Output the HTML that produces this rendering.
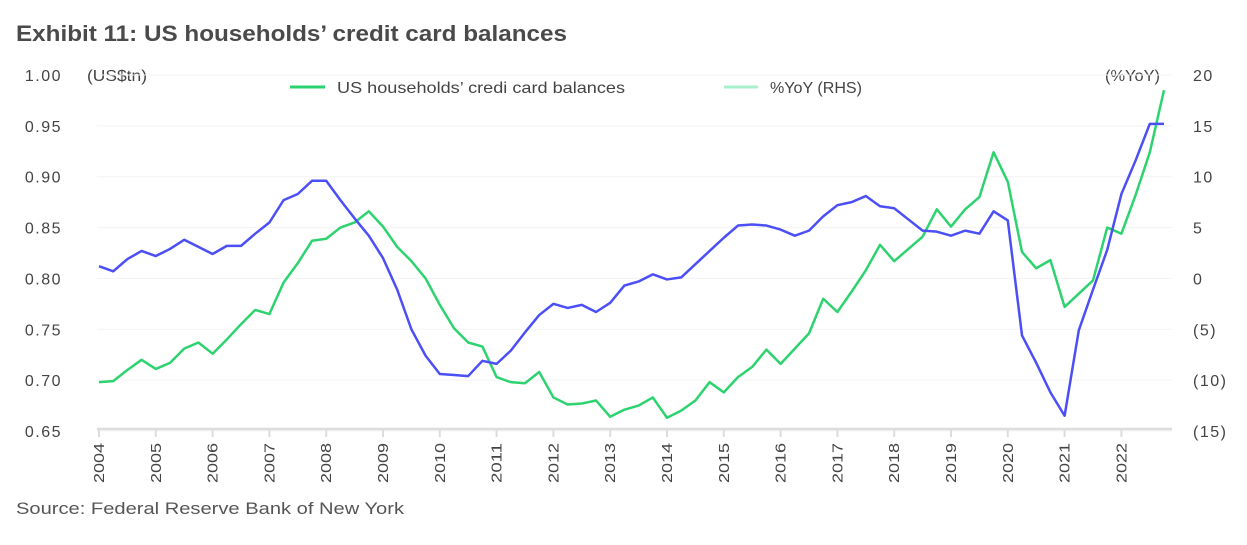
<!DOCTYPE html>
<html><head><meta charset="utf-8"><style>
body{margin:0;background:#fff;width:1247px;height:540px;overflow:hidden;font-family:"Liberation Sans",sans-serif;}
svg text{font-family:"Liberation Sans",sans-serif;fill:#444;}
</style></head><body>
<svg id="chart" width="1247" height="540" xmlns="http://www.w3.org/2000/svg">
<text x="16" y="41" font-size="22" font-weight="bold" textLength="551" lengthAdjust="spacingAndGlyphs" style="fill:#4a4a4a">Exhibit 11: US households’ credit card balances</text>
<text x="87" y="81" font-size="16" textLength="60" lengthAdjust="spacingAndGlyphs">(US$tn)</text>
<text x="1105" y="81" font-size="16" textLength="55" lengthAdjust="spacingAndGlyphs">(%YoY)</text>
<g>
<line x1="290" y1="87" x2="325" y2="87" stroke="#2dd36f" stroke-width="3"/>
<text x="337" y="93" font-size="16" textLength="288" lengthAdjust="spacingAndGlyphs">US households’ credi card balances</text>
<line x1="724" y1="87" x2="758" y2="87" stroke="#a8f0cc" stroke-width="3"/>
<text x="770" y="93" font-size="16" textLength="92" lengthAdjust="spacingAndGlyphs">%YoY (RHS)</text>
</g>
<g id="grid"></g><g id="axes"></g><g id="series"></g>
<text x="16" y="514" font-size="17" textLength="388" lengthAdjust="spacingAndGlyphs" style="fill:#555">Source: Federal Reserve Bank of New York</text>
</svg>
<script>
const years=["2004","2005","2006","2007","2008","2009","2010","2011","2012","2013","2014","2015","2016","2017","2018","2019","2020","2021","2022"];
const leftTicks=[0.65,0.70,0.75,0.80,0.85,0.90,0.95,1.00];
const rightTicks=[-15,-10,-5,0,5,10,15,20];
const balances=[0.698,0.699,0.710,0.720,0.711,0.717,0.731,0.737,0.726,0.740,0.755,0.769,0.765,0.796,0.815,0.837,0.839,0.850,0.855,0.866,0.851,0.831,0.817,0.800,0.774,0.751,0.737,0.733,0.703,0.698,0.697,0.708,0.683,0.676,0.677,0.680,0.664,0.671,0.675,0.683,0.663,0.670,0.680,0.698,0.688,0.703,0.713,0.730,0.716,0.731,0.746,0.780,0.767,0.787,0.808,0.833,0.817,0.829,0.841,0.868,0.851,0.868,0.880,0.924,0.895,0.826,0.810,0.818,0.772,0.785,0.798,0.850,0.844,0.882,0.924,0.985];
const yoy=[1.2,0.7,1.9,2.7,2.2,2.9,3.8,3.1,2.4,3.2,3.2,4.4,5.5,7.7,8.3,9.6,9.6,7.7,5.9,4.2,2.0,-1.1,-5.0,-7.6,-9.4,-9.5,-9.6,-8.1,-8.4,-7.1,-5.3,-3.6,-2.5,-2.9,-2.6,-3.3,-2.4,-0.7,-0.3,0.4,-0.1,0.1,1.4,2.7,4.0,5.2,5.3,5.2,4.8,4.2,4.7,6.1,7.2,7.5,8.1,7.1,6.9,5.8,4.7,4.6,4.2,4.7,4.4,6.6,5.7,-5.6,-8.3,-11.2,-13.5,-5.1,-1.1,2.8,8.3,11.6,15.2,15.2];
const NS="http://www.w3.org/2000/svg";
const x0=99,yr=56.8,yTop=75,yBot=431;
const xq=i=>x0+i*yr/4;
const yL=v=>yBot-(v-0.65)/0.35*(yBot-yTop);
const yR=v=>yBot-(v+15)/35*(yBot-yTop);
function mk(tag,attrs,parent){const e=document.createElementNS(NS,tag);for(const k in attrs)e.setAttribute(k,attrs[k]);document.getElementById(parent).appendChild(e);return e;}
leftTicks.forEach((v,i)=>{
 const g=mk('line',{x1:97,x2:1172,y1:yL(v),y2:yL(v),stroke:'#f3f3f3','stroke-width':1},'grid');
 
 
 const t=mk('text',{x:62,y:yL(v)+6,'text-anchor':'end','font-size':16,'letter-spacing':'1.5'},'axes');
 t.textContent=v.toFixed(2);
 
 
});
rightTicks.forEach(v=>{
 const t=mk('text',{x:1193,y:yR(v)+6,'font-size':16,'letter-spacing':'1.5'},'axes');
 t.textContent=v<0?'('+(-v)+')':String(v);
 
 
});
const ax=mk('line',{x1:97,x2:1172,y1:429,y2:429,stroke:'#ddd','stroke-width':2.5},'axes');


years.forEach((y,i)=>{
 const x=x0+i*yr;
 const tk=mk('line',{x1:x,x2:x,y1:429,y2:437,stroke:'#ddd','stroke-width':2},'axes');
 
 
 const t=mk('text',{x:0,y:0,'font-size':15,'text-anchor':'end',textLength:40,lengthAdjust:'spacingAndGlyphs',transform:`translate(${x+5},443) rotate(-90)`},'axes');
 t.textContent=y;
 
 
});
const pb=mk('polyline',{points:balances.map((v,i)=>xq(i)+','+yL(v)).join(' '),fill:'none',stroke:'#2dd36f','stroke-width':2.5,'stroke-linejoin':'round'},'series');


const py=mk('polyline',{points:yoy.map((v,i)=>xq(i)+','+yR(v)).join(' '),fill:'none',stroke:'#4b4ff5','stroke-width':2.5,'stroke-linejoin':'round'},'series');


</script>
</body></html>
